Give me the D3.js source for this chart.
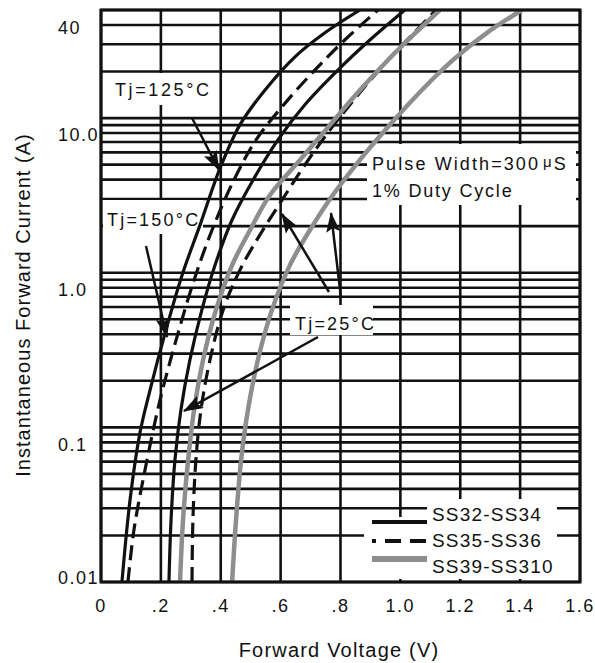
<!DOCTYPE html>
<meta charset="utf-8">
<html>
<head>
    <title>Forward Characteristics</title>
    <style>
        body { margin: 0; background: white; }
        svg { display: block; }
        svg text {
            font-family: "Liberation Sans", Arial, sans-serif;
            fill: #111;
        }
    </style>
    <script src="https://d3js.org/d3.v7.min.js"></script>
</head>
<body>
    <div id="chart-container"></div>
    <script>
        // ---- data ----
        var xTickValues = [0, 0.2, 0.4, 0.6, 0.8, 1.0, 1.2, 1.4, 1.6];
        var xTickLabels = ["0", ".2", ".4", ".6", ".8", "1.0", "1.2", "1.4", "1.6"];
        var yTickValues = [0.01, 0.1, 1, 10, 40];
        var yTickLabels = ["0.01", "0.1", "1.0", "10.0", "40"];

        // SS32-SS34, Tj=125°C
        var ss34HotV = [0.070, 0.097, 0.130, 0.164, 0.217, 0.271, 0.331, 0.398, 0.464, 0.548, 0.648, 0.748, 0.865];
        var ss34HotI = [0.01, 0.0339, 0.092, 0.175, 0.427, 0.968, 2.04, 4.76, 9.04, 15.2, 24.9, 35.6, 50];
        // SS35-SS36, Tj=125°C
        var ss36HotV = [0.090, 0.110, 0.147, 0.197, 0.251, 0.311, 0.371, 0.444, 0.518, 0.615, 0.715, 0.815, 0.925];
        var ss36HotI = [0.01, 0.0217, 0.053, 0.150, 0.368, 0.898, 1.89, 3.98, 7.23, 12.5, 20.5, 32.1, 50];
        // SS32-SS34, Tj=25°C
        var ss34ColdV = [0.227, 0.234, 0.247, 0.267, 0.297, 0.337, 0.381, 0.438, 0.508, 0.591, 0.681, 0.792, 0.899, 1.015];
        var ss34ColdI = [0.01, 0.0252, 0.0615, 0.130, 0.273, 0.575, 1.12, 2.20, 3.98, 7.23, 12.2, 20.5, 32.1, 50];
        // SS35-SS36, Tj=25°C
        var ss36ColdV = [0.304, 0.307, 0.317, 0.334, 0.364, 0.408, 0.464, 0.531, 0.605, 0.681, 0.765, 0.858, 0.959, 1.039, 1.119];
        var ss36ColdI = [0.01, 0.0252, 0.0615, 0.130, 0.273, 0.575, 1.04, 1.76, 2.96, 4.98, 8.39, 14.1, 23.8, 34.5, 50];
        // SS39-SS310, Tj=150°C
        var ss310HotV = [0.264, 0.274, 0.291, 0.311, 0.341, 0.384, 0.438, 0.498, 0.565, 0.665, 0.765, 0.872, 0.999, 1.132];
        var ss310HotI = [0.01, 0.0252, 0.0615, 0.130, 0.273, 0.575, 1.12, 1.89, 3.19, 5.37, 9.04, 15.7, 28.5, 50];
        // SS39-SS310, Tj=25°C
        var ss310ColdV = [0.438, 0.451, 0.468, 0.491, 0.524, 0.571, 0.631, 0.698, 0.775, 0.865, 0.965, 1.072, 1.176, 1.289, 1.406];
        var ss310ColdI = [0.01, 0.0252, 0.0615, 0.130, 0.273, 0.575, 1.12, 1.89, 3.19, 5.37, 9.04, 15.2, 23.8, 35.6, 50];

        var seriesNames = ["SS32-SS34", "SS35-SS36", "SS39-SS310"];

        var curves = [
            { series: 0, v: ss34HotV, i: ss34HotI },
            { series: 1, v: ss36HotV, i: ss36HotI },
            { series: 0, v: ss34ColdV, i: ss34ColdI },
            { series: 1, v: ss36ColdV, i: ss36ColdI },
            { series: 2, v: ss310HotV, i: ss310HotI },
            { series: 2, v: ss310ColdV, i: ss310ColdI }
        ];

        // ---- layout ----
        var W = 595, H = 663;
        var plot = { left: 101, right: 580, top: 10, bottom: 582 };

        var svg = d3.select("#chart-container")
            .append("svg")
            .attr("width", W)
            .attr("height", H);

        var x = d3.scaleLinear().domain([0, 1.6]).range([plot.left, plot.right]);
        var y = d3.scaleLog().domain([0.01, 50]).range([plot.bottom, plot.top]);

        var styles = [
            { stroke: "#111", width: 3.2, dash: null },
            { stroke: "#111", width: 3.2, dash: "15,7" },
            { stroke: "#8e8e8e", width: 4.5, dash: null }
        ];

        var defs = svg.append("defs");
        defs.append("clipPath").attr("id", "plot-clip")
            .append("rect")
            .attr("x", plot.left).attr("y", plot.top)
            .attr("width", plot.right - plot.left).attr("height", plot.bottom - plot.top);

        defs.append("marker")
            .attr("id", "head")
            .attr("viewBox", "0 0 20 14")
            .attr("refX", 19).attr("refY", 7)
            .attr("markerWidth", 20).attr("markerHeight", 14)
            .attr("markerUnits", "userSpaceOnUse")
            .attr("orient", "auto")
            .append("path")
            .attr("d", "M0,0 L20,7 L0,14 L4,7 Z")
            .attr("fill", "#111");

        // grid
        var grid = svg.append("g").attr("stroke", "#111").attr("stroke-width", 2.6);
        grid.selectAll("line.h")
            .data(y.ticks())
            .enter().append("line")
            .attr("class", "h")
            .attr("x1", plot.left).attr("x2", plot.right)
            .attr("y1", d => y(d)).attr("y2", d => y(d));
        grid.selectAll("line.v")
            .data(xTickValues)
            .enter().append("line")
            .attr("class", "v")
            .attr("y1", plot.top).attr("y2", plot.bottom)
            .attr("x1", d => x(d)).attr("x2", d => x(d));

        // white boxes behind the notes (they cut the grid)
        var boxes = [
            [103, 73, 116, 32],      // Tj=125
            [103, 200, 100, 34],     // Tj=150
            [290, 305, 83, 30],      // Tj=25
            [367, 144, 209, 61],     // pulse note
            [427, 499, 130, 80],     // legend top
            [364, 517, 193, 62]      // legend bottom
        ];
        svg.append("g").selectAll("rect")
            .data(boxes)
            .enter().append("rect")
            .attr("x", d => d[0]).attr("y", d => d[1])
            .attr("width", d => d[2]).attr("height", d => d[3])
            .attr("fill", "white");

        // curves
        var line = d3.line()
            .x(d => x(d[0]))
            .y(d => y(d[1]))
            .curve(d3.curveCatmullRom.alpha(0.5));

        svg.append("g")
            .attr("clip-path", "url(#plot-clip)")
            .selectAll("path")
            .data(curves)
            .enter().append("path")
            .attr("d", d => line(d.v.map((v, k) => [v, d.i[k]])))
            .attr("fill", "none")
            .attr("stroke", d => styles[d.series].stroke)
            .attr("stroke-width", d => styles[d.series].width)
            .attr("stroke-dasharray", d => styles[d.series].dash);

        // frame
        svg.append("rect")
            .attr("x", plot.left).attr("y", plot.top)
            .attr("width", plot.right - plot.left).attr("height", plot.bottom - plot.top)
            .attr("fill", "none")
            .attr("stroke", "#111")
            .attr("stroke-width", 3);

        // annotations
        var ann = svg.append("g");
        function note(tx, ty, str, spacing) {
            return ann.append("text")
                .attr("x", tx).attr("y", ty)
                .style("font-size", "18px")
                .style("letter-spacing", spacing + "px")
                .text(str);
        }
        note(115, 96, "Tj=125°C", 2.6);
        note(107, 226, "Tj=150°C", 2.2);
        note(295, 330, "Tj=25°C", 2.2);
        var pulse = note(372, 170, "Pulse Width=300", 2.1);
        pulse.append("tspan").attr("dx", 3).attr("dy", -3).style("font-size", "15px").text("\u03bc");
        pulse.append("tspan").attr("dy", 3).text("S");
        note(372, 197, "1% Duty Cycle", 1.8);

        var arrows = [
            [192, 118, 219, 170],
            [146, 246, 167, 337],
            [318, 337, 184, 411],
            [329, 292, 282, 214],
            [341, 298, 331, 213]
        ];
        ann.selectAll("line.arrow")
            .data(arrows)
            .enter().append("line")
            .attr("class", "arrow")
            .attr("x1", d => d[0]).attr("y1", d => d[1])
            .attr("x2", d => d[2]).attr("y2", d => d[3])
            .attr("stroke", "#111")
            .attr("stroke-width", 2.5)
            .attr("marker-end", "url(#head)");

        // legend
        var legend = svg.append("g")
            .selectAll("g")
            .data(seriesNames)
            .enter().append("g")
            .attr("transform", (d, k) => "translate(372," + (522 + k * 19) + ")");
        legend.append("line")
            .attr("x1", 0).attr("x2", 55)
            .attr("y1", (d, k) => k === 2 ? -1 : 0).attr("y2", (d, k) => k === 2 ? -1 : 0)
            .attr("stroke", (d, k) => styles[k].stroke)
            .attr("stroke-width", (d, k) => k === 2 ? 6 : 4)
            .attr("stroke-dasharray", (d, k) => k === 1 ? "4,9,16,9,16,4" : null);
        legend.append("text")
            .attr("x", 60)
            .attr("y", (d, k) => [0, 26, 52][k] - 1 - k * 19)
            .style("font-size", "19px")
            .style("letter-spacing", "1.2px")
            .text(d => d);

        // axes labels
        svg.append("g").selectAll("text")
            .data(xTickValues)
            .enter().append("text")
            .attr("x", d => x(d))
            .attr("y", 612)
            .attr("text-anchor", "middle")
            .style("font-size", "18px")
            .style("letter-spacing", "1.5px")
            .text((d, k) => xTickLabels[k]);

        svg.append("g").selectAll("text")
            .data(yTickValues)
            .enter().append("text")
            .attr("x", 58)
            .attr("y", (d, k) => y(d) + (k === 0 ? -4 : k === yTickValues.length - 1 ? 3 : 17))
            .attr("dy", "0.35em")
            .style("font-size", "18px")
            .style("letter-spacing", "1.5px")
            .text((d, k) => yTickLabels[k]);

        svg.append("text")
            .attr("x", 339).attr("y", 657)
            .attr("text-anchor", "middle")
            .style("font-size", "20px")
            .style("letter-spacing", "1.2px")
            .text("Forward Voltage (V)");

        svg.append("text")
            .attr("transform", "translate(30,305) rotate(-90)")
            .attr("text-anchor", "middle")
            .style("font-size", "20px")
            .style("letter-spacing", "1.05px")
            .text("Instantaneous Forward Current (A)");
    </script>
</body>
</html>
